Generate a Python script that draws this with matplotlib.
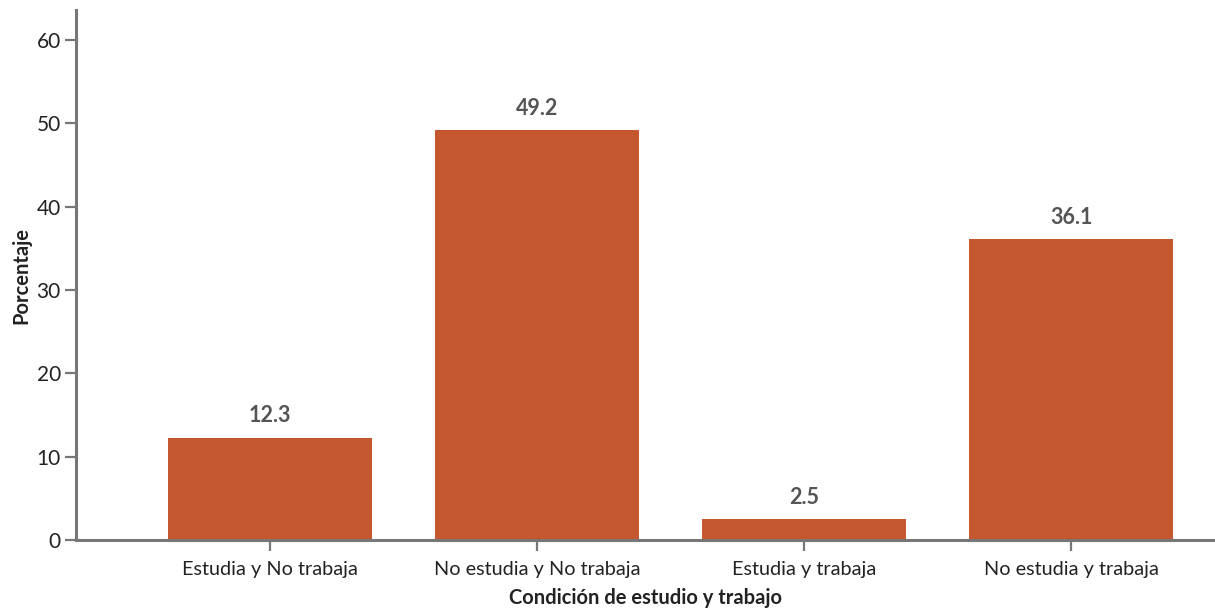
import matplotlib
matplotlib.use("Agg")
import matplotlib.pyplot as plt

categories = ["Estudia y No trabaja", "No estudia y No trabaja", "Estudia y trabaja", "No estudia y trabaja"]
values = [12.3, 49.2, 2.5, 36.1]
yticks = [0, 10, 20, 30, 40, 50, 60]

plt.rcParams['font.family'] = ['Lato', 'DejaVu Sans']

fig = plt.figure(figsize=(12.15, 6.14), dpi=100)
ax = fig.add_axes([0.0626, 0.1205, 0.9374, 0.8632])

x = list(range(len(categories)))
bars = ax.bar(x, values, width=0.764, color="#C5572F", zorder=2)
for xi, v in zip(x, values):
    ax.annotate(f"{v}", (xi, v), xytext=(0, 8), textcoords="offset points",
                ha="center", va="bottom", fontsize=15.5, fontweight="bold", color="#555555")

ax.set_xlim(-0.727, 3.539)
ax.set_ylim(0, 63.6)
ax.set_yticks(yticks)
ax.set_xticks(x)
ax.set_xticklabels(categories)

for s in ["top", "right"]:
    ax.spines[s].set_visible(False)
for s in ["left", "bottom"]:
    ax.spines[s].set_color("#777777")
    ax.spines[s].set_linewidth(2.2)

ax.tick_params(axis="both", colors="#777777", length=8, width=1.6)
ax.tick_params(axis="y", labelsize=15, labelcolor="#222222", pad=3)
ax.tick_params(axis="x", labelsize=14.3, labelcolor="#222222", pad=7)

ax.set_xlabel("Condición de estudio y trabajo", fontsize=14.5, fontweight="bold", color="#222222", labelpad=7)
ax.set_ylabel("Porcentaje", fontsize=14.5, fontweight="bold", color="#222222", labelpad=4)

fig.savefig("out.png", dpi=100)
